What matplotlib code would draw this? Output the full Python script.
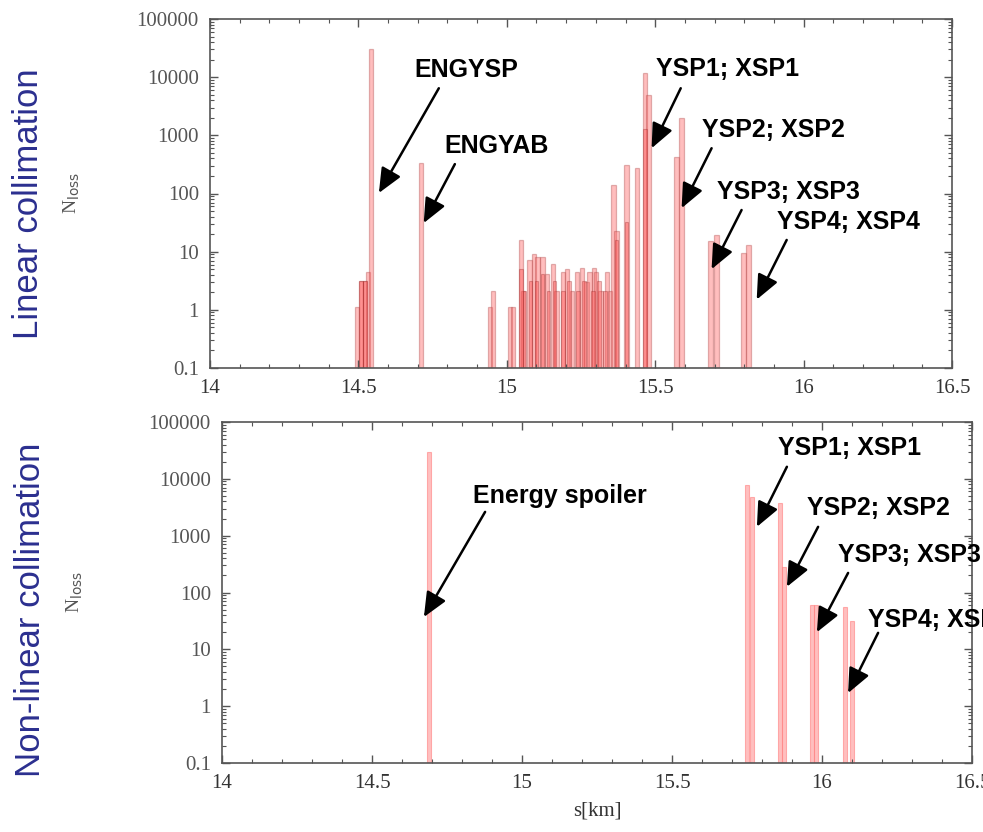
import numpy as np
import matplotlib
matplotlib.use("Agg")
import matplotlib.pyplot as plt
from matplotlib.ticker import FixedLocator, MultipleLocator, LogLocator, NullFormatter

# --- data: linear collimation (s in km, N_loss) ---
lin_s = [14.495, 14.508, 14.522, 14.532, 14.542, 14.710,
         14.943, 14.953, 15.010, 15.020, 15.047, 15.054, 15.077, 15.091,
         15.104, 15.121, 15.135, 15.155, 15.168, 15.189, 15.202, 15.219,
         15.236, 15.253, 15.269, 15.279, 15.293, 15.300, 15.316, 15.337,
         15.347, 15.360, 15.370, 15.404, 15.438, 15.465, 15.478,
         15.572, 15.589, 15.687, 15.707, 15.798, 15.815]
lin_n = [1, 3, 3, 4.3, 30000, 330,
         1, 2, 1, 1, 16, 2, 7, 9,
         8, 8, 4, 6, 2, 4.3, 5, 2,
         4.3, 5.2, 2.9, 4.3, 5.2, 4.3, 2, 4.3,
         2, 140, 23, 310, 270, 11700, 5000,
         420, 2000, 15, 19, 9.5, 13]

# second (overlapping) series in the linear case
lin2_s = [14.508, 14.522, 15.047, 15.060, 15.080, 15.100, 15.120, 15.140,
          15.160, 15.190, 15.210, 15.240, 15.260, 15.290, 15.310, 15.330,
          15.370, 15.404, 15.465]
lin2_n = [3, 3, 5, 2, 3, 3, 4, 2,
          3, 2, 3, 2, 3, 2, 3, 2,
          16, 32, 1300]

# --- data: non-linear collimation ---
nl_s = [14.690, 15.750, 15.767, 15.860, 15.873, 15.967, 15.980, 16.077, 16.100]
nl_n = [30000, 7800, 4800, 3800, 280, 60, 60, 56, 32]

# labels: (text, text pos, arrow start, arrow tip) in data coords
lin_labels = [
    ("ENGYSP", (14.687, 13200), (14.771, 6450), (14.569, 102)),
    ("ENGYAB", (14.790, 650), (14.825, 320), (14.720, 31)),
    ("YSP1; XSP1", (15.502, 13800), (15.586, 6450), (15.488, 600)),
    ("YSP2; XSP2", (15.657, 1230), (15.690, 600), (15.589, 56)),
    ("YSP3; XSP3", (15.707, 106), (15.791, 52), (15.690, 5)),
    ("YSP4; XSP4", (15.909, 32), (15.943, 15.9), (15.842, 1.5)),
]
nl_labels = [
    ("Energy spoiler", (14.837, 5000), (14.877, 2620), (14.673, 37)),
    ("YSP1; XSP1", (15.853, 35100), (15.883, 16300), (15.783, 1430)),
    ("YSP2; XSP2", (15.950, 3080), (15.987, 1430), (15.883, 126)),
    ("YSP3; XSP3", (16.053, 459), (16.087, 221), (15.983, 20)),
    ("YSP4; XSP4", (16.153, 33), (16.187, 19.5), (16.087, 1.7)),
]

ytick_vals = [0.1, 1, 10, 100, 1000, 10000, 100000]
ytick_labels = ["0.1", "1", "10", "100", "1000", "10000", "100000"]
xtick_vals = [14, 14.5, 15, 15.5, 16, 16.5]
xtick_labels = ["14", "14.5", "15", "15.5", "16", "16.5"]

W, H = 983, 832
fig = plt.figure(figsize=(W / 100, H / 100), dpi=100)
ax1 = fig.add_axes([210 / W, 1 - 368 / H, 742 / W, 349 / H])
ax2 = fig.add_axes([222 / W, 1 - 763 / H, 750 / W, 341 / H])

gray = "#555555"
serif = ["Liberation Serif", "DejaVu Serif"]
sans = ["Liberation Sans", "DejaVu Sans"]


def style_axes(ax, label_x):
    ax.set_yscale("log")
    ax.set_xlim(14, 16.5)
    ax.set_ylim(0.1, 100000)
    ax.yaxis.set_major_locator(FixedLocator(ytick_vals))
    ax.set_yticklabels(ytick_labels, fontfamily=serif, fontsize=15, color=gray)
    ax.yaxis.set_minor_locator(LogLocator(base=10, subs=np.arange(2, 10)))
    ax.yaxis.set_minor_formatter(NullFormatter())
    ax.set_xticks(xtick_vals)
    ax.set_xticklabels(xtick_labels, fontfamily=serif, fontsize=15, color="#333333")
    ax.xaxis.set_minor_locator(MultipleLocator(0.1))
    ax.tick_params(which="both", direction="in", top=True, right=True, color=gray)
    ax.tick_params(which="major", length=6, width=1, pad=8)
    ax.tick_params(which="minor", length=3, width=0.8)
    for sp in ax.spines.values():
        sp.set_color(gray)
        sp.set_linewidth(1.2)
    ax.set_ylabel(r"N$_{\rm loss}$", fontfamily=serif, fontsize=14, color=gray)
    ax.yaxis.set_label_coords(label_x, 0.5)


def add_labels(ax, items):
    for txt, tpos, start, tip in items:
        ax.text(tpos[0], tpos[1], txt, fontfamily=sans, fontweight="bold",
                fontsize=18, ha="left", va="center", color="black", clip_on=False)
        ax.annotate("", xy=tip, xytext=start,
                    arrowprops=dict(arrowstyle="-|>,head_length=0.75,head_width=0.33",
                                    color="black", lw=1.8, mutation_scale=20,
                                    shrinkA=0, shrinkB=0))


# linear collimation
ax1.bar(lin_s, lin_n, width=0.015, bottom=0.1, align="center",
        color=(1.0, 0.4, 0.4, 0.42), edgecolor=(0.7, 0.3, 0.3, 0.4), linewidth=0.9)
ax1.bar(lin2_s, lin2_n, width=0.012, bottom=0.1, align="center",
        color=(1.0, 0.3, 0.3, 0.4), edgecolor=(0.55, 0.1, 0.1, 0.3), linewidth=0.8)
style_axes(ax1, -0.172)
add_labels(ax1, lin_labels)

# non-linear collimation
ax2.bar(nl_s, nl_n, width=0.014, bottom=0.1, align="center",
        color=(1.0, 0.55, 0.55, 0.55), edgecolor=(1.0, 0.5, 0.5, 0.6), linewidth=0.8)
style_axes(ax2, -0.183)
add_labels(ax2, nl_labels)
ax2.set_xlabel("s[km]", fontfamily=serif, fontsize=15, color="#333333", labelpad=6)

title_color = "#2b2f8f"
fig.text(29 / W, 1 - 204 / H, "Linear collimation", rotation=90, fontfamily=sans,
         fontsize=25, color=title_color, ha="center", va="center")
fig.text(31 / W, 1 - 610 / H, "Non-linear collimation", rotation=90, fontfamily=sans,
         fontsize=25, color=title_color, ha="center", va="center")

fig.savefig("out.png", dpi=100)
